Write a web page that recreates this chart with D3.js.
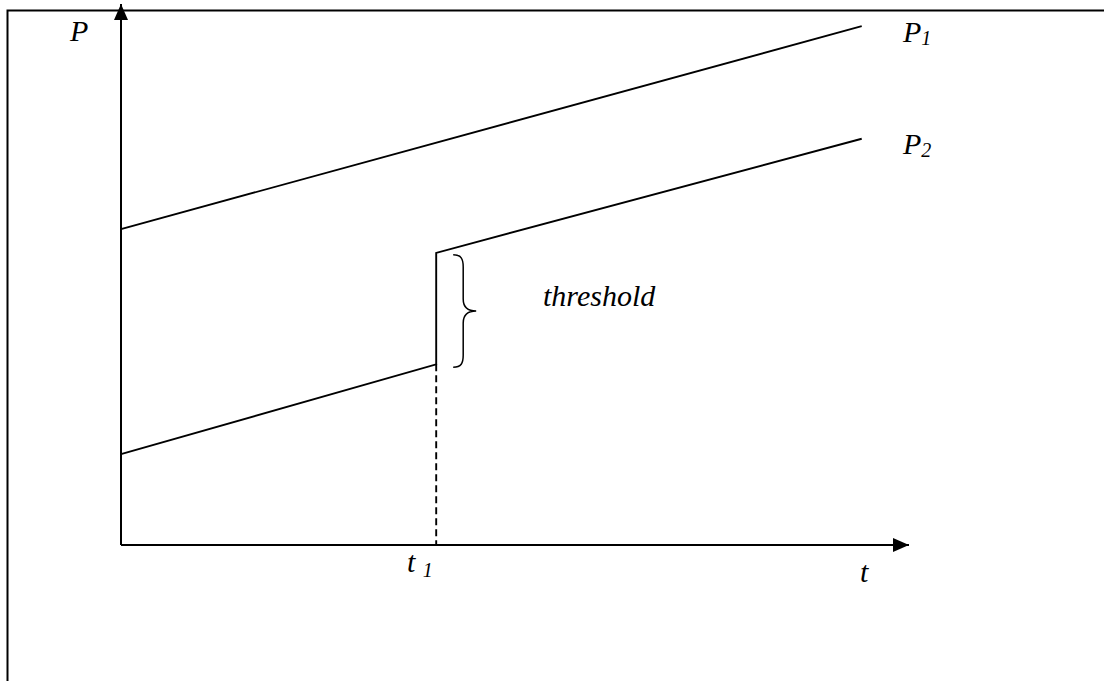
<!DOCTYPE html>
<html>
<head>
<meta charset="utf-8">
<script src="https://cdn.jsdelivr.net/npm/d3@7"></script>
<style>
  body { margin: 0; background: #fff; }
  text { font-family: "Liberation Serif", "Times New Roman", serif; font-style: italic; fill: #000; }
</style>
</head>
<body>
<div id="chart"></div>
<script>
// schematic values (axis units 0..100 on both axes)
const tStart = 0;
const t1 = 40;
const tEnd = 94;
const p1Values = [58.4, 95.9];          // P1 at tStart, tEnd
const p2Before = [16.8, 33.4];          // P2 at tStart, t1
const p2After = [54.0, 75.1];           // P2 at t1, tEnd
const seriesLabels = ["P1", "P2"];

const width = 1104, height = 681;

const svg = d3.select('#chart')
  .append('svg')
  .attr('width', width)
  .attr('height', height);

// frame (right and bottom edges fall outside the picture)
svg.append('rect')
  .attr('x', 7.5).attr('y', 10.5)
  .attr('width', 1200).attr('height', 800)
  .attr('fill', 'none')
  .attr('stroke', '#000')
  .attr('stroke-width', 2);

const x = d3.scaleLinear().domain([0, 100]).range([121, 909]);
const y = d3.scaleLinear().domain([0, 100]).range([545, 4]);

const line = d3.line().x(d => x(d[0])).y(d => y(d[1]));

// arrow heads
const defs = svg.append('defs');
defs.append('marker')
  .attr('id', 'arrow')
  .attr('viewBox', '0 0 16 14')
  .attr('refX', 16).attr('refY', 7)
  .attr('markerWidth', 16).attr('markerHeight', 14)
  .attr('markerUnits', 'userSpaceOnUse')
  .attr('orient', 'auto')
  .append('path')
  .attr('d', 'M0,0 L16,7 L0,14 Z')
  .attr('fill', '#000');

// axes
svg.append('line')
  .attr('x1', x(0)).attr('y1', y(0))
  .attr('x2', x(0)).attr('y2', y(100))
  .attr('stroke', '#000').attr('stroke-width', 2)
  .attr('marker-end', 'url(#arrow)');

svg.append('line')
  .attr('x1', x(0)).attr('y1', y(0))
  .attr('x2', x(100)).attr('y2', y(0))
  .attr('stroke', '#000').attr('stroke-width', 2)
  .attr('marker-end', 'url(#arrow)');

// P1
svg.append('path')
  .datum([[tStart, p1Values[0]], [tEnd, p1Values[1]]])
  .attr('d', line)
  .attr('fill', 'none').attr('stroke', '#000').attr('stroke-width', 1.9);

// P2 with the jump at t1
svg.append('path')
  .datum([[tStart, p2Before[0]], [t1, p2Before[1]], [t1, p2After[0]], [tEnd, p2After[1]]])
  .attr('d', line)
  .attr('fill', 'none').attr('stroke', '#000').attr('stroke-width', 1.9);

// dashed drop line at t1
svg.append('line')
  .attr('x1', x(t1)).attr('y1', y(p2Before[1]))
  .attr('x2', x(t1)).attr('y2', y(0))
  .attr('stroke', '#000').attr('stroke-width', 1.9)
  .attr('stroke-dasharray', '7,4');

// curly brace next to the jump
const bx = x(t1) + 17, bTop = y(p2After[0]) + 2, bBot = y(p2Before[1]) + 3;
const mid = (bTop + bBot) / 2, w = 23;
svg.append('path')
  .attr('d', `M${bx},${bTop} C${bx + 8},${bTop} ${bx + 10},${bTop + 4} ${bx + 10},${bTop + 12}
    L${bx + 10},${mid - 12} C${bx + 10},${mid - 3} ${bx + 15},${mid} ${bx + w},${mid}
    C${bx + 15},${mid} ${bx + 10},${mid + 3} ${bx + 10},${mid + 12}
    L${bx + 10},${bBot - 12} C${bx + 10},${bBot - 4} ${bx + 8},${bBot} ${bx},${bBot}`)
  .attr('fill', 'none').attr('stroke', '#000').attr('stroke-width', 1.5);

// labels
svg.append('text').attr('x', 70).attr('y', 41).attr('font-size', 30).text('P');

seriesLabels.forEach((lab, i) => {
  const yy = i === 0 ? 42 : 154;
  const t = svg.append('text').attr('x', 903).attr('y', yy).attr('font-size', 30);
  t.append('tspan').text(lab[0]);
  t.append('tspan').attr('font-size', 20).attr('dy', 3).text(lab.slice(1));
});

svg.append('text').attr('x', 543).attr('y', 306).attr('font-size', 30).text('threshold');

const t1Label = svg.append('text').attr('x', 407).attr('y', 572).attr('font-size', 30);
t1Label.append('tspan').text('t ');
t1Label.append('tspan').attr('font-size', 20).attr('dy', 5).text('1');

svg.append('text').attr('x', 860).attr('y', 582).attr('font-size', 30).text('t');
</script>
</body>
</html>
